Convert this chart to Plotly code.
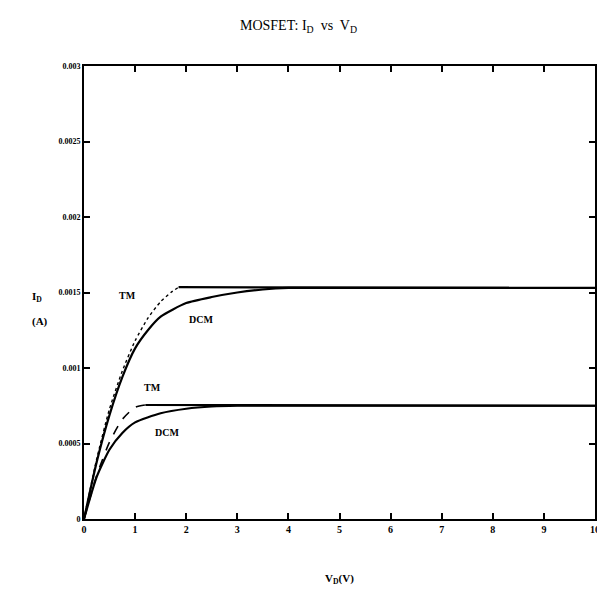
import plotly.graph_objects as go

# ---- data ----
tm_hi_rise_v = [0, 0.25, 0.5, 0.75, 1.0, 1.25, 1.5, 1.7, 1.85]
tm_hi_rise_i = [0, 0.00040, 0.00073, 0.00098, 0.00118, 0.00133, 0.00144, 0.00150, 0.001535]
tm_hi_flat_v = [1.85, 10]
tm_hi_flat_i = [0.001535, 0.00153]

dcm_hi_v = [0, 0.25, 0.5, 0.75, 1.0, 1.25, 1.5, 2.0, 2.5, 3.0, 3.5, 4.0, 5.0, 10]
dcm_hi_i = [0, 0.00038, 0.00069, 0.00094, 0.00113, 0.00125, 0.00134, 0.00143,
            0.00147, 0.00150, 0.00152, 0.00153, 0.00153, 0.00153]

tm_lo_rise_v = [0, 0.25, 0.5, 0.75, 1.0, 1.2]
tm_lo_rise_i = [0, 0.00029, 0.00051, 0.00066, 0.00074, 0.000755]
tm_lo_flat_v = [1.2, 10]
tm_lo_flat_i = [0.000755, 0.00075]

dcm_lo_v = [0, 0.25, 0.5, 0.75, 1.0, 1.5, 2.0, 2.5, 3.0, 10]
dcm_lo_i = [0, 0.00028, 0.00046, 0.00057, 0.00064, 0.00070, 0.00073, 0.000745, 0.00075, 0.00075]

x_ticks = list(range(0, 11))
y_tickvals = [0, 0.0005, 0.001, 0.0015, 0.002, 0.0025, 0.003]
y_ticktext = ["0", "0.0005", "0.001", "0.0015", "0.002", "0.0025", "0.003"]

labels = [
    ("TM", 0.86, 0.001483),
    ("DCM", 2.29, 0.001318),
    ("TM", 1.35, 0.000874),
    ("DCM", 1.62, 0.000576),
]

SERIF = "Liberation Serif"
fig = go.Figure()

def add(xv, yv, dash, width):
    fig.add_trace(go.Scatter(x=xv, y=yv, mode="lines",
                             line=dict(color="black", width=width, dash=dash, shape="spline", smoothing=0.6),
                             showlegend=False, hoverinfo="skip"))

add(dcm_hi_v, dcm_hi_i, "solid", 2.2)
add(tm_hi_rise_v, tm_hi_rise_i, "dot", 1.4)
add(tm_hi_flat_v, tm_hi_flat_i, "solid", 2.2)
add(dcm_lo_v, dcm_lo_i, "solid", 2.2)
add(tm_lo_rise_v, tm_lo_rise_i, "dash", 1.6)
add(tm_lo_flat_v, tm_lo_flat_i, "solid", 2.2)

for txt, xv, yv in labels:
    fig.add_annotation(x=xv, y=yv, text=txt, showarrow=False,
                       font=dict(family=SERIF, size=10, color="black", weight="bold"))

fig.update_layout(
    width=597, height=597,
    margin=dict(l=84, r=2, t=66, b=78, autoexpand=False),
    paper_bgcolor="white", plot_bgcolor="white",
    title=dict(text="MOSFET: I<sub>D</sub>  vs  V<sub>D</sub>", x=0.5, xanchor="center",
               y=0.958, yanchor="middle", automargin=False,
               font=dict(family=SERIF, size=14, color="black")),
    font=dict(family=SERIF, color="black"),
)

fig.update_xaxes(range=[0, 10], tickvals=x_ticks, ticktext=[str(t) for t in x_ticks],
                 ticks="inside", ticklen=6, tickwidth=1.5, tickcolor="black",
                 showline=True, linecolor="black", linewidth=2, mirror="ticks",
                 showgrid=False, zeroline=False, automargin=False,
                 ticklabeloverflow="allow",
                 tickfont=dict(family=SERIF, size=10, color="black", weight="bold"),
                 title=dict(text="V<sub>D</sub>(V)", font=dict(family=SERIF, size=11, weight="bold"),
                            standoff=40))
fig.update_yaxes(range=[0, 0.003], tickvals=y_tickvals, ticktext=y_ticktext,
                 ticks="inside", ticklen=6, tickwidth=1.5, tickcolor="black",
                 showline=True, linecolor="black", linewidth=2, mirror="ticks",
                 showgrid=False, zeroline=False, automargin=False,
                 ticklabeloverflow="allow",
                 tickfont=dict(family=SERIF, size=8, color="black", weight="bold"))

fig.add_annotation(xref="paper", yref="paper", x=-0.106, y=0.49, text="I<sub>D</sub>",
                   showarrow=False, font=dict(family=SERIF, size=11, color="black", weight="bold"))
fig.add_annotation(xref="paper", yref="paper", x=-0.106, y=0.437, text="(A)",
                   showarrow=False, font=dict(family=SERIF, size=11, color="black", weight="bold"))

fig.write_html("out.html", config={"displayModeBar": False},
               post_script="document.body.style.margin='0';document.body.style.overflow='hidden';")
